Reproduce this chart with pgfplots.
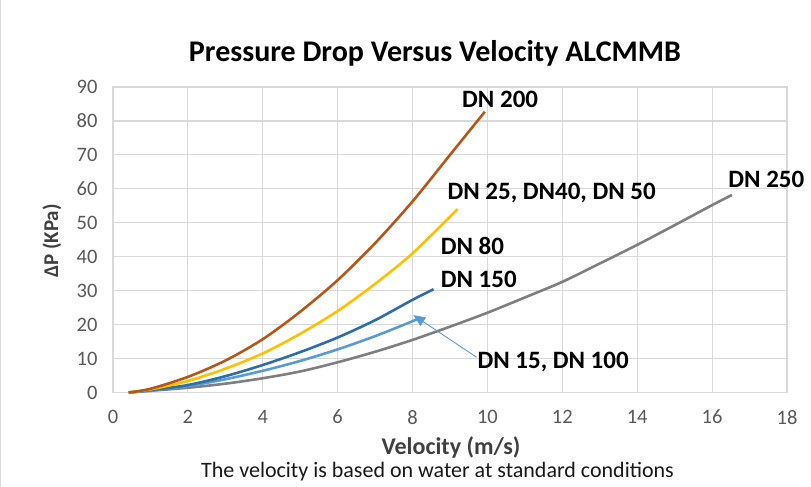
\documentclass[border=0pt]{standalone}
\usepackage{pgfplots}
\pgfplotsset{compat=1.18}
\usepackage{pgfplotstable}
\usepackage{fontspec}
\setmainfont{Carlito}
\usetikzlibrary{arrows.meta}

\definecolor{gridgray}{HTML}{D9D9D9}
\definecolor{tickgray}{HTML}{595959}
\definecolor{labgray}{HTML}{404040}
\definecolor{dnbrown}{HTML}{B5561A}
\definecolor{dnyellow}{HTML}{FFC000}
\definecolor{dnblue}{HTML}{2E6DA8}
\definecolor{dnlight}{HTML}{5B9BD5}
\definecolor{dngray}{HTML}{7F7F7F}

\tikzset{lbl/.style={font=\fontsize{25}{28}\selectfont\bfseries, anchor=base west, inner sep=0pt}}

% velocity (m/s) vs pressure drop (kPa)
\pgfplotstableread{
v dp
0.42 0
1.0 1.1
2.0 4.6
3.0 9.4
4.0 15.7
5.0 23.8
6.0 33.1
7.0 44.0
8.0 56.3
9.0 70.0
9.93 82.7
}\dntwohundred

\pgfplotstableread{
v dp
0.42 0
1.0 0.9
2.0 3.4
3.0 7.0
4.0 11.5
5.0 17.3
6.0 24.0
7.0 32.0
8.0 41.0
9.2 54.0
}\dntwentyfive

\pgfplotstableread{
v dp
0.42 0
1.0 0.7
2.0 2.2
3.0 4.8
4.0 8.1
5.0 11.9
6.0 16.2
7.0 21.3
8.0 27.3
8.56 30.4
}\dnonefifty

\pgfplotstableread{
v dp
0.42 0
1.0 0.6
2.0 1.9
3.0 3.9
4.0 6.4
5.0 9.3
6.0 12.7
7.0 16.6
8.0 21.0
8.2 22.0
}\dnfifteen

\pgfplotstableread{
v dp
0.42 0
1.0 0.5
2.0 1.4
3.0 2.6
4.0 4.2
5.0 6.2
6.0 8.9
7.0 12.0
8.0 15.5
9.0 19.4
10.0 23.5
11.0 28.0
12.0 32.6
13.0 38.0
14.0 43.5
15.0 49.3
16.0 55.2
16.53 58.2
}\dntwofifty

\begin{document}
\begin{tikzpicture}[x=1pt,y=1pt]
\useasboundingbox (0,0) rectangle (811,487);
\draw[gridgray, line width=1pt] (0.5,0) -- (0.5,487);

\node[font=\fontsize{30}{34}\selectfont\bfseries, anchor=base, inner sep=0pt] at (435,425.3) {Pressure Drop Versus Velocity ALCMMB};
\node[font=\fontsize{21}{24}\selectfont\bfseries, text=labgray, rotate=90] at (52,246) {ΔP (KPa)};
\node[font=\fontsize{24}{28}\selectfont\bfseries, text=labgray, anchor=base, inner sep=0pt] at (451,32.5) {Velocity (m/s)};
\node[font=\fontsize{22}{26}\selectfont, text=black!90, anchor=base, inner sep=0pt] at (437.5,9.8) {The velocity is based on water at standard conditions};

\begin{axis}[
  at={(113pt,94.5pt)}, anchor=south west,
  scale only axis, width=674pt, height=305.5pt,
  xmin=0, xmax=18, ymin=0, ymax=90,
  xtick={0,2,...,18}, ytick={0,10,...,90},
  grid=major,
  grid style={gridgray, line width=1.2pt},
  axis line style={gridgray, line width=1.2pt},
  tick style={draw=none},
  /pgf/number format/assume math mode=true,
  ticklabel style={font=\fontsize{20.5}{22}\selectfont, text=tickgray},
  yticklabel style={xshift=-12pt},
  xticklabel style={yshift=-14pt},
  clip=false,
  every axis plot/.append style={line width=2.6pt, smooth, no marks},
]
\addplot[dngray] table[x=v, y=dp] {\dntwofifty};
\addplot[dnlight] table[x=v, y=dp] {\dnfifteen};
\addplot[dnblue] table[x=v, y=dp] {\dnonefifty};
\addplot[dnyellow] table[x=v, y=dp] {\dntwentyfive};
\addplot[dnbrown] table[x=v, y=dp] {\dntwohundred};

\node[lbl, anchor=base] at (axis cs:10.34,84.0) {DN 200};
\node[lbl] at (axis cs:8.93,56.9) {DN 25, DN40, DN 50};
\node[lbl] at (axis cs:8.75,40.8) {DN 80};
\node[lbl] at (axis cs:8.75,31.0) {DN 150};
\node[lbl] at (axis cs:9.73,7.1) {DN 15, DN 100};
\node[lbl] at (axis cs:16.43,60.3) {DN 250};
\draw[dnlight, line width=0.9pt, -{Triangle[length=12pt, width=10pt]}]
  (axis cs:9.71,10.4) -- (axis cs:8.02,22.8);
\end{axis}
\end{tikzpicture}
\end{document}
